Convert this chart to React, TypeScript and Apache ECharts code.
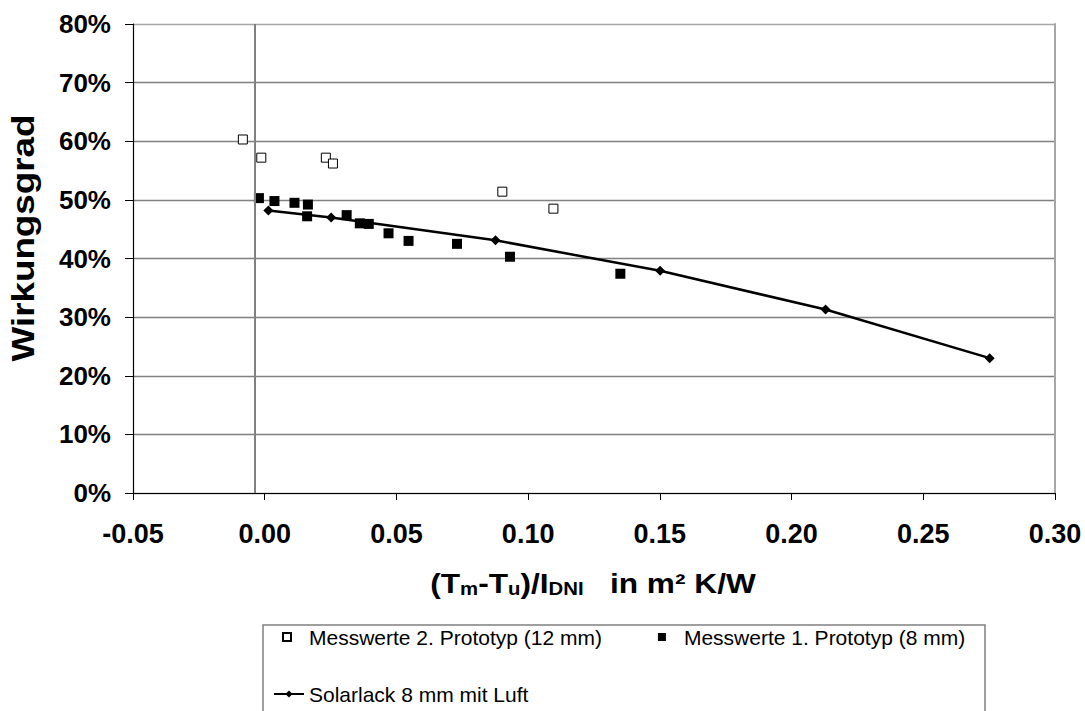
import React, { useEffect, useRef } from "react";
import * as echarts from "echarts";

const FONT = "'Liberation Sans', Arial, sans-serif";

const xTicks = { min: -0.05, max: 0.3, interval: 0.05 };
const yTicks = { min: 0, max: 80, interval: 10 };

const seriesNames = [
  "Messwerte 2. Prototyp (12 mm)",
  "Messwerte 1. Prototyp (8 mm)",
  "Solarlack 8 mm mit Luft",
];

// Messwerte 2. Prototyp (12 mm): [x, efficiency %]
const proto2: [number, number][] = [
  [-0.0083, 60.3],
  [-0.0013, 57.2],
  [0.0232, 57.2],
  [0.0259, 56.2],
  [0.0902, 51.4],
  [0.1096, 48.5],
];

// Messwerte 1. Prototyp (8 mm)
const proto1: [number, number][] = [
  [-0.0022, 50.3],
  [0.0037, 49.8],
  [0.0113, 49.5],
  [0.0164, 49.2],
  [0.0161, 47.2],
  [0.0311, 47.4],
  [0.0361, 46.0],
  [0.0395, 45.9],
  [0.047, 44.3],
  [0.0546, 43.0],
  [0.073, 42.5],
  [0.0931, 40.3],
  [0.135, 37.4],
];

// Solarlack 8 mm mit Luft (model line)
const solarlack: [number, number][] = [
  [0.0014, 48.2],
  [0.0252, 47.0],
  [0.0876, 43.1],
  [0.1501, 37.9],
  [0.2129, 31.3],
  [0.2752, 23.0],
];

const verticalRefX = -0.0038;

export default function App() {
  const ref = useRef<HTMLDivElement>(null);

  useEffect(() => {
    if (!ref.current) return;
    const chart = echarts.init(ref.current, null, { renderer: "svg" });
    const splitColors = ["#808080", "#808080", "#808080", "#808080", "#808080", "#808080", "#808080", "#808080", "#a6a6a6"];
    chart.setOption({
      animation: false,
      backgroundColor: "#ffffff",
      textStyle: { fontFamily: FONT },
      grid: { left: 133, top: 24, width: 922, height: 469, containLabel: false },
      xAxis: {
        type: "value",
        min: xTicks.min,
        max: xTicks.max,
        interval: xTicks.interval,
        axisLine: { show: true, onZero: false, lineStyle: { color: "#000", width: 1.2 } },
        axisTick: { show: true, length: 7, lineStyle: { color: "#000", width: 1 } },
        splitLine: { show: false },
        axisLabel: {
          margin: 27,
          fontSize: 27,
          fontWeight: "bold",
          color: "#000",
          fontFamily: FONT,
          formatter: (v: number) => v.toFixed(2),
        },
      },
      yAxis: [
        {
          type: "value",
          min: yTicks.min,
          max: yTicks.max,
          interval: yTicks.interval,
          axisLine: { show: true, onZero: false, lineStyle: { color: "#000", width: 1.2 } },
          axisTick: { show: true, length: 8, lineStyle: { color: "#000", width: 1 } },
          splitLine: { show: true, lineStyle: { color: splitColors, width: 1.3 } },
          axisLabel: {
            margin: 22,
            fontSize: 26,
            fontWeight: "bold",
            color: "#000",
            fontFamily: FONT,
            formatter: "{value}%",
          },
        },
        {
          type: "value",
          position: "right",
          min: yTicks.min,
          max: yTicks.max,
          interval: yTicks.interval,
          axisLine: { show: true, onZero: false, lineStyle: { color: "#a6a6a6", width: 2 } },
          axisTick: { show: false },
          axisLabel: { show: false },
          splitLine: { show: false },
        },
      ],
      legend: [
        {
          data: [seriesNames[0], seriesNames[1]],
          left: 282,
          top: 625,
          padding: 0,
          itemWidth: 8,
          itemHeight: 8,
          itemGap: 56,
          textStyle: { fontSize: 21, color: "#000", fontFamily: FONT, lineHeight: 24, padding: [0, 0, 0, 13] },
          selectedMode: false,
        },
        {
          data: [seriesNames[2]],
          left: 273,
          top: 682,
          padding: 0,
          itemWidth: 30,
          itemHeight: 9,
          textStyle: { fontSize: 21, color: "#000", fontFamily: FONT, lineHeight: 24 },
          selectedMode: false,
        },
      ],
      graphic: [
        {
          type: "rect",
          silent: true,
          shape: { x: 263, y: 625, width: 722, height: 130 },
          style: { fill: "none", stroke: "#808080", lineWidth: 1.5 },
        },
        {
          type: "text",
          x: 23,
          y: 238,
          rotation: Math.PI / 2,
          scaleX: 1.15,
          silent: true,
          style: {
            text: "Wirkungsgrad",
            fontFamily: FONT,
            fontSize: 32,
            fontWeight: "bold",
            fill: "#000",
            align: "center",
            verticalAlign: "middle",
          },
        },
        {
          type: "text",
          x: 593,
          y: 583,
          scaleX: 1.13,
          silent: true,
          style: {
            text: "{m|(T}{s|m}{m|-T}{s|u}{m|)/I}{s|DNI}{m|   in m² K/W}",
            align: "center",
            verticalAlign: "middle",
            fill: "#000",
            rich: {
              m: { fontFamily: FONT, fontSize: 28, fontWeight: "bold", lineHeight: 30, fill: "#000" },
              s: { fontFamily: FONT, fontSize: 18, fontWeight: "bold", lineHeight: 14, verticalAlign: "bottom", fill: "#000" },
            },
          },
        },
      ],
      series: [
        {
          name: seriesNames[0],
          type: "scatter",
          data: proto2,
          symbol: "rect",
          symbolSize: 9,
          itemStyle: { color: "#ffffff", borderColor: "#000", borderWidth: 1, opacity: 1 },
          markLine: {
            silent: true,
            symbol: ["none", "none"],
            label: { show: false },
            lineStyle: { color: "#808080", width: 2, type: "solid" },
            data: [[{ coord: [verticalRefX, yTicks.min] }, { coord: [verticalRefX, yTicks.max] }]],
          },
          z: 3,
        },
        {
          name: seriesNames[2],
          type: "line",
          data: solarlack,
          symbol: "diamond",
          symbolSize: 10,
          showSymbol: true,
          lineStyle: { color: "#000", width: 2.5 },
          itemStyle: { color: "#000", opacity: 1 },
          z: 2,
        },
        {
          name: seriesNames[1],
          type: "scatter",
          data: proto1,
          symbol: "rect",
          symbolSize: 10,
          itemStyle: { color: "#000", opacity: 1 },
          z: 4,
        },
      ],
    });
    return () => chart.dispose();
  }, []);

  return (
    <div
      ref={ref}
      style={{ position: "fixed", left: 0, top: 0, width: 1085, height: 711, background: "#fff" }}
    />
  );
}
